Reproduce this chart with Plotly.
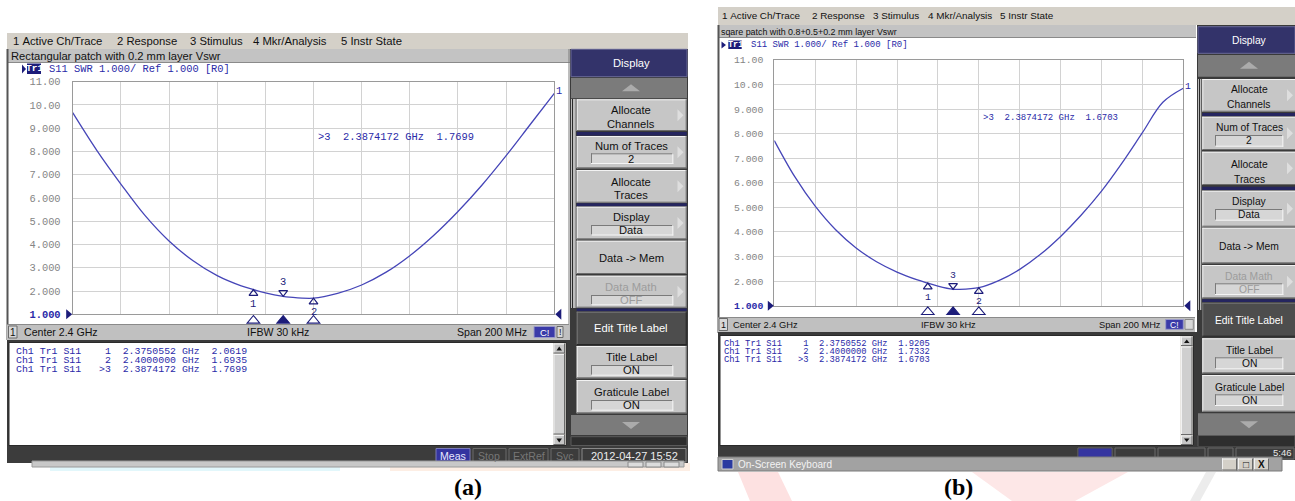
import plotly.graph_objects as go

W, H = 1295, 501

# ------------------------------------------------------------------ data
freq_ghz = [2.30, 2.31, 2.32, 2.33, 2.34, 2.35, 2.36, 2.37, 2.3750552, 2.38,
            2.3874172, 2.39, 2.40, 2.41, 2.42, 2.43, 2.44, 2.45, 2.46, 2.47,
            2.48, 2.49, 2.50]
vswr_a = [9.67, 8.05, 6.60, 5.25, 4.15, 3.30, 2.66, 2.22, 2.0619, 1.92,
          1.7699, 1.74, 1.6935, 1.90, 2.26, 2.80, 3.52, 4.40, 5.42, 6.56,
          7.82, 9.16, 10.50]
vswr_b = [7.72, 6.25, 5.05, 4.09, 3.35, 2.79, 2.37, 2.05, 1.9205, 1.80,
          1.6703, 1.665, 1.7332, 2.03, 2.48, 3.08, 3.82, 4.68, 5.66, 6.80,
          8.04, 9.28, 9.85]

marker_names = ["1", "2", ">3"]
marker_freq_ghz = [2.3750552, 2.4000000, 2.3874172]
marker_vswr_a = [2.0619, 1.6935, 1.7699]
marker_vswr_b = [1.9205, 1.7332, 1.6703]

x_grid_ghz = [2.30, 2.32, 2.34, 2.36, 2.38, 2.40, 2.42, 2.44, 2.46, 2.48, 2.50]
y_tick_vals = [1, 2, 3, 4, 5, 6, 7, 8, 9, 10, 11]
y_tick_text = ["1.000", "2.000", "3.000", "4.000", "5.000", "6.000",
               "7.000", "8.000", "9.000", "10.00", "11.00"]

menu_items = ["1 Active Ch/Trace", "2 Response", "3 Stimulus",
              "4 Mkr/Analysis", "5 Instr State"]
chart_titles = ["Rectangular patch with 0.2 mm layer Vswr",
                "sqare patch with 0.8+0.5+0.2 mm layer Vswr"]
trace_header = "S11 SWR 1.000/ Ref 1.000 [R0]"
panel_labels = ["(a)", "(b)"]

# ------------------------------------------------------------------ styles
SANS = "Liberation Sans"
MONO = "Liberation Mono"
SERIF = "Liberation Serif"
BLUE_TXT = "#2a2aa8"
TRACE = "#4646b8"
NAVY = "#1c1c7a"
NB = "\u00a0"

S, A = [], []


def X(p):
    return p / W


def Y(p):
    return 1 - p / H


def rect(x0, y0, x1, y1, fill, lc=None, lw=0):
    S.append(dict(type="rect", xref="paper", yref="paper", x0=X(x0), x1=X(x1),
                  y0=Y(y1), y1=Y(y0), fillcolor=fill, layer="below",
                  line=dict(color=lc or "rgba(0,0,0,0)", width=lw)))


def seg(x0, y0, x1, y1, color, w=1):
    S.append(dict(type="line", xref="paper", yref="paper", x0=X(x0), x1=X(x1),
                  y0=Y(y0), y1=Y(y1), layer="below", line=dict(color=color, width=w)))


def poly(pts, fill, layer="below", lc=None, lw=0):
    d = "M " + " L ".join(f"{X(a):.6f},{Y(b):.6f}" for a, b in pts) + " Z"
    S.append(dict(type="path", xref="paper", yref="paper", path=d, fillcolor=fill,
                  layer=layer, line=dict(width=lw, color=lc or "rgba(0,0,0,0)")))


def txt(x, y, s, size, color, family=SANS, xanchor="left", bold=False):
    s = s.replace(" ", NB)
    if bold:
        s = f"<b>{s}</b>"
    A.append(dict(xref="paper", yref="paper", x=X(x), y=Y(y), text=s,
                  showarrow=False, xanchor=xanchor, yanchor="middle", borderpad=0,
                  borderwidth=0, font=dict(family=family, size=size, color=color)))


def button(x0, y0, x1, y1, fill="#c6c6c6", hi="#f2f2f2", lo="#6a6a6a"):
    rect(x0, y0, x1, y1, fill)
    seg(x0, y0 + 0.5, x1, y0 + 0.5, hi)
    seg(x0 + 0.5, y0, x0 + 0.5, y1, hi)
    seg(x0, y1 - 0.5, x1, y1 - 0.5, lo)
    seg(x1 - 0.5, y0, x1 - 0.5, y1, lo)


def inset(x0, y0, x1, y1, fill="#d6d6d6"):
    rect(x0, y0, x1, y1, fill)
    seg(x0, y0 + 0.5, x1, y0 + 0.5, "#7a7a7a")
    seg(x0 + 0.5, y0, x0 + 0.5, y1, "#7a7a7a")
    seg(x0, y1 - 0.5, x1, y1 - 0.5, "#f4f4f4")
    seg(x1 - 0.5, y0, x1 - 0.5, y1, "#f4f4f4")


def softkeys(g):
    px0, px1 = g["px0"], g["px1"]
    bx0, bx1 = g["bx0"], g["bx1"]
    ix0, ix1 = g["ix0"], g["ix1"]
    ax = g["ax"]
    fs = g["fs"]
    cx = g.get("cx", (bx0 + bx1) / 2)
    rect(px0, g["py0"], px1, g["py1"], "#3a3a3a")
    rect(px0 + 1, g["strip"][0], bx0 - 1, g["strip"][1], "#bdbdbd")
    seg(px0 + 2.5, g["strip"][0], px0 + 2.5, g["strip"][1], "#2a2a2a")
    for it in g["items"]:
        k = it["k"]
        y0, y1 = it["y"]
        if k == "nav":
            rect(px0 + 1, y0, px1 - 1, y1, "#33336a", "#6a6a9a", 1)
            txt(cx, it["ly"][0], it["t"][0], fs, "white", xanchor="center")
        elif k in ("up", "down"):
            rect(px0 + 1, y0, px1 - 1, y1, "#7b7b7b")
            yc = (y0 + y1) / 2
            if k == "up":
                poly([(cx - 9, yc + 3), (cx + 9, yc + 3), (cx, yc - 4)], "#ababab")
            else:
                poly([(cx - 9, yc - 3), (cx + 9, yc - 3), (cx, yc + 4)], "#ababab")
        elif k == "bar":
            rect(px0 + 1, y0, px1 - 1, y1, "#2e2e2e", "#5a5a5a", 1)
        elif k == "sep":
            rect(bx0, y0, bx1, y1, "#25255f")
        elif k == "dark":
            button(bx0, y0, bx1, y1, fill="#4d4d4d", hi="#777777", lo="#262626")
            txt(cx, it["ly"][0], it["t"][0], fs, "white", xanchor="center")
        else:
            button(bx0, y0, bx1, y1)
            col = "#9c9c9c" if it.get("gray") else "#111111"
            for t, ly in zip(it["t"], it["ly"]):
                txt(cx, ly, t, fs, col, xanchor="center")
            if "box" in it:
                b0, b1 = it["box"][0], it["box"][1]
                inset(ix0, b0, ix1, b1)
                txt(cx, (b0 + b1) / 2, it["box"][2], fs, col, xanchor="center")
            if it.get("arrow"):
                yc = (y0 + y1) / 2
                poly([(ax, yc - 6), (ax + 6, yc), (ax, yc + 6)], "#dedede")


# ================================================================ panel (a)
rect(7, 33, 688, 49, "#d4d0c8")
menu_x_a = [12.7, 117.3, 190.0, 253.3, 340.7]
for mx, m in zip(menu_x_a, menu_items):
    txt(mx, 41, m, 11.3, "#111111")
rect(7, 49, 570, 63, "#c3c3c3")
seg(7, 62.5, 570, 62.5, "#8a8a8a")
txt(10.5, 56, chart_titles[0], 11.2, "#111111")
rect(7, 63, 569, 324, "#ffffff")
seg(7.5, 49, 7.5, 340, "#555555", 2)
seg(569, 49, 569, 340, "#7a7a7a", 1)
# trace header
poly([(22, 64.5), (26, 69), (22, 73.5)], NAVY)
rect(27, 63.5, 41, 74, NAVY)
txt(34, 69, "Tr1", 9.5, "white", family=MONO, xanchor="center", bold=True)
txt(48.5, 69, trace_header, 10.4, BLUE_TXT, family=MONO)
# readout
txt(317.5, 136.7, f"{marker_names[2]}  {marker_freq_ghz[2]:.7f} GHz  {marker_vswr_a[2]:.4f}",
    10.4, BLUE_TXT, family=MONO)
# status bar
rect(7, 324, 569, 340, "#c0c0c0")
seg(7, 324.5, 569, 324.5, "#8a8a8a")
rect(8.5, 326, 17, 338, "#d8d8d8", "#6a6a6a", 1)
txt(12.8, 332, "1", 10, "#111111", xanchor="center")
txt(24, 332, "Center 2.4 GHz", 10.6, "#111111")
txt(278, 332, "IFBW 30 kHz", 10.6, "#111111", xanchor="center")
txt(527, 332, "Span 200 MHz", 10.6, "#111111", xanchor="right")
rect(534, 326.5, 555, 337.5, "#3a3aa8", "#9a9ac8", 1)
txt(544.5, 332, "C!", 9.5, "white", xanchor="center")
rect(557, 326.5, 563, 337.5, "#d8d8d8", "#6a6a6a", 1)
txt(560, 332, "!", 9, "#111111", xanchor="center")
# marker list
rect(7, 340, 570, 447, "#3a3a3a")
rect(9, 342.5, 566, 445.5, "#ffffff", "#2a2a2a", 1)
rect(553, 343, 565.5, 445, "#d4d0c8")
button(553.5, 343.5, 565, 353.5)
poly([(556.5, 350.5), (562, 350.5), (559.25, 346.5)], "#111111")
button(553.5, 435, 565, 445)
poly([(556.5, 438.5), (562, 438.5), (559.25, 442.5)], "#111111")
button(553.5, 354, 565, 434.5, fill="#cfcfcf")
for i, (nm, f, v) in enumerate(zip(marker_names, marker_freq_ghz, marker_vswr_a)):
    line = f"Ch1 Tr1 S11{nm:>5}  {f:.7f} GHz  {v:.4f}"
    txt(15.5, 351.5 + 9 * i, line, 9.9, BLUE_TXT, family=MONO)

softkeys(dict(
    px0=570, px1=688, py0=49, py1=447, bx0=576.7, bx1=686.7, ix0=591, ix1=673.3,
    ax=677.5, fs=11.2, strip=(99, 308), cx=631,
    items=[
        dict(k="nav", y=(49.3, 76.7), t=["Display"], ly=[63]),
        dict(k="up", y=(78, 98.3)),
        dict(k="btn", y=(99.3, 131), t=["Allocate", "Channels"], ly=[110.5, 124], arrow=True),
        dict(k="sep", y=(132, 135.5)),
        dict(k="btn", y=(136, 168.3), t=["Num of Traces"], ly=[146], box=(153.3, 164, "2"), arrow=True),
        dict(k="btn", y=(170, 202.7), t=["Allocate", "Traces"], ly=[181.7, 195], arrow=True),
        dict(k="sep", y=(203.3, 206.2)),
        dict(k="btn", y=(206.7, 239.3), t=["Display"], ly=[216.7], box=(225, 235.5, "Data"), arrow=True),
        dict(k="btn", y=(240.7, 274), t=["Data -> Mem"], ly=[258.3]),
        dict(k="btn", y=(275.7, 307.7), t=["Data Math"], ly=[286.7], box=(295, 305.3, "OFF"), arrow=True, gray=True),
        dict(k="sep", y=(308.5, 311.3)),
        dict(k="dark", y=(311.7, 345), t=["Edit Title Label"], ly=[328.3]),
        dict(k="btn", y=(346, 378.3), t=["Title Label"], ly=[357.3], box=(365, 375.7, "ON")),
        dict(k="btn", y=(380, 413.3), t=["Graticule Label"], ly=[391.7], box=(400, 410.7, "ON")),
        dict(k="down", y=(415, 435)),
        dict(k="bar", y=(436.7, 445.5)),
    ]))

# bottom status bar (a)
rect(7, 446, 688, 463, "#3c3c3c")
rect(436, 448.5, 470, 462, "#3434a0", "#7a7ab8", 1)
txt(453, 456, "Meas", 10.6, "#e8e8ff", xanchor="center")
for bx0, bx1, lab in [(473, 506, "Stop"), (509, 548, "ExtRef"), (551, 579, "Svc")]:
    rect(bx0, 448.5, bx1, 462, "#3c3c3c", "#6a6a6a", 1)
    txt((bx0 + bx1) / 2, 456, lab, 10.6, "#767676", xanchor="center")
rect(582, 448.5, 686, 462, "#3c3c3c", "#8a8a8a", 1)
txt(634, 456, "2012-04-27 15:52", 11, "#ececec", xanchor="center")
rect(50, 463, 340, 471, "#e2f7fb")
rect(390, 463, 690, 471, "#fdeee4")
rect(32, 461, 684, 467, "#c8c8c8", "#9a9a9a", 1)
for bx in (628, 646, 664):
    rect(bx, 462, bx + 15, 467, "#dcdcdc", "#8a8a8a", 1)
txt(468.5, 487, panel_labels[0], 24, "#000000", family=SERIF, xanchor="center", bold=True)

# ================================================================ panel (b)
rect(718, 7, 1295, 25, "#d4d0c8")
menu_x_b = [721.7, 811.7, 873.3, 927.7, 1000.0]
for mx, m in zip(menu_x_b, menu_items):
    txt(mx, 16, m, 9.9, "#111111")
rect(718, 25, 1196, 38, "#c3c3c3")
seg(718, 37.5, 1196, 37.5, "#8a8a8a")
txt(720.5, 31.7, chart_titles[1], 8.9, "#111111")
rect(718, 38, 1195, 317, "#ffffff")
seg(718.5, 25, 718.5, 333, "#555555", 2)
poly([(721.5, 41.5), (726, 45), (721.5, 48.5)], NAVY)
rect(728.3, 40.5, 741.7, 49, NAVY)
txt(735, 44.8, "Tr1", 8.5, "white", family=MONO, xanchor="center", bold=True)
txt(751.2, 45, trace_header, 9, BLUE_TXT, family=MONO)
txt(982.8, 118.3, f"{marker_names[2]}  {marker_freq_ghz[2]:.7f} GHz  {marker_vswr_b[2]:.4f}",
    9, BLUE_TXT, family=MONO)
rect(718, 317, 1195, 332, "#c0c0c0")
seg(718, 317.5, 1195, 317.5, "#8a8a8a")
rect(719, 318.5, 727.5, 330.5, "#d8d8d8", "#6a6a6a", 1)
txt(723.3, 324.5, "1", 9, "#111111", xanchor="center")
txt(732.5, 324.5, "Center 2.4 GHz", 9.3, "#111111")
txt(948, 324.5, "IFBW 30 kHz", 9.3, "#111111", xanchor="center")
txt(1160.5, 324.5, "Span 200 MHz", 9.3, "#111111", xanchor="right")
rect(1165.7, 319.5, 1183.3, 329.3, "#3a3aa8", "#9a9ac8", 1)
txt(1174.5, 324.5, "C!", 8.5, "white", xanchor="center")
rect(1185, 319.5, 1193.3, 329.3, "#d8d8d8", "#8a8a8a", 1)
rect(718, 332, 1197, 447, "#3a3a3a")
rect(720, 335.5, 1193.5, 445.5, "#ffffff", "#2a2a2a", 1)
rect(1180.5, 336, 1193, 445, "#d4d0c8")
button(1181, 336.5, 1192.5, 346)
poly([(1184, 343), (1189.5, 343), (1186.75, 339.5)], "#111111")
button(1181, 435.5, 1192.5, 445)
poly([(1184, 438.5), (1189.5, 438.5), (1186.75, 442)], "#111111")
button(1181, 346.5, 1192.5, 435, fill="#cfcfcf")
for i, (nm, f, v) in enumerate(zip(marker_names, marker_freq_ghz, marker_vswr_b)):
    line = f"Ch1 Tr1 S11{nm:>5}  {f:.7f} GHz  {v:.4f}"
    txt(724.5, 344 + 8 * i, line, 8.8, BLUE_TXT, family=MONO)

softkeys(dict(
    px0=1197, px1=1296, py0=25, py1=447, bx0=1202.3, bx1=1296, ix0=1215, ix1=1283.3,
    ax=1287, fs=10.3, strip=(79, 310), cx=1249,
    items=[
        dict(k="nav", y=(26.7, 53.3), t=["Display"], ly=[40.7]),
        dict(k="up", y=(55, 76.7)),
        dict(k="btn", y=(79, 111.7), t=["Allocate", "Channels"], ly=[90, 104.3], arrow=True),
        dict(k="sep", y=(113, 116)),
        dict(k="btn", y=(116.7, 150), t=["Num of Traces"], ly=[127.7], box=(135, 146.7, "2"), arrow=True),
        dict(k="btn", y=(151.7, 185), t=["Allocate", "Traces"], ly=[164, 179], arrow=True),
        dict(k="sep", y=(186.7, 190)),
        dict(k="btn", y=(190.7, 226.7), t=["Display"], ly=[201.7], box=(209, 220.7, "Data"), arrow=True),
        dict(k="btn", y=(227.7, 263.3), t=["Data -> Mem"], ly=[246.7]),
        dict(k="btn", y=(265, 298.3), t=["Data Math"], ly=[276], box=(283.3, 295, "OFF"), arrow=True, gray=True),
        dict(k="sep", y=(299.3, 301.9)),
        dict(k="dark", y=(302.7, 336.7), t=["Edit Title Label"], ly=[320]),
        dict(k="btn", y=(338.3, 373.3), t=["Title Label"], ly=[350], box=(357.3, 369.3, "ON")),
        dict(k="btn", y=(375, 411.7), t=["Graticule Label"], ly=[387.3], box=(394.3, 406, "ON")),
        dict(k="down", y=(413.3, 435)),
        dict(k="bar", y=(435.5, 446.7)),
    ]))

rect(718, 446.5, 1295, 460, "#3c3c3c")
for bx0, bx1 in [(1078, 1112), (1115, 1155), (1158, 1205), (1208, 1233), (1236, 1294)]:
    rect(bx0, 448, bx1, 459, "#3c3c3c", "#6a6a6a", 1)
rect(1078.5, 448.5, 1111.5, 458.5, "#3434a0")
txt(1292, 452.5, "5:46", 9.5, "#e8e8e8", xanchor="right")
rect(718, 457, 1282, 471, "#a2a2a2", "#7a7a7a", 1)
rect(722, 459.5, 733, 469, "#2a3aa0", "#d0d0d0", 1)
txt(738, 464.5, "On-Screen Keyboard", 10, "#f2f2f2")
for bx0, lab in [(1222, ""), (1238, "□"), (1254, "X")]:
    button(bx0, 458.5, bx0 + 15, 470.5, fill="#d4d0c8")
    if lab:
        txt(bx0 + 7.5, 464.5, lab, 10, "#111111", xanchor="center", bold=(lab == "X"))
poly([(738, 472), (778, 472), (792, 501), (750, 501)], "#fde1e1")
poly([(972, 472), (1128, 472), (1075, 501), (1012, 501)], "#fde7e7")
poly([(1206, 472), (1216, 472), (1200, 501), (1190, 501)], "#ececec")
txt(958, 487, panel_labels[1], 24, "#000000", family=SERIF, xanchor="center", bold=True)

# ================================================================ charts
fig = go.Figure()

geo = {
    "a": dict(x0=72.7, x1=554.3, y0=81.7, y1=314.3, fs=10.4, vs=vswr_a, mv=marker_vswr_a,
              xa="x", ya="y", standoff=9),
    "b": dict(x0=774.3, x1=1183.3, y0=60.0, y1=305.7, fs=9.8, vs=vswr_b, mv=marker_vswr_b,
              xa="x2", ya="y2", standoff=8),
}

layout_axes = {}
for key, g in geo.items():
    ppu = (g["y1"] - g["y0"]) / (y_tick_vals[-1] - y_tick_vals[0])      # px per VSWR unit
    ppg = (g["x1"] - g["x0"]) / (x_grid_ghz[-1] - x_grid_ghz[0])        # px per GHz
    xa, ya = g["xa"], g["ya"]
    ticktext = [f"<span style='color:{BLUE_TXT}'><b>{t}</b></span>" if i == 0 else t
                for i, t in enumerate(y_tick_text)]
    xname = "xaxis" if xa == "x" else "xaxis2"
    yname = "yaxis" if ya == "y" else "yaxis2"
    layout_axes[xname] = dict(domain=[X(g["x0"]), X(g["x1"])], range=[x_grid_ghz[0], x_grid_ghz[-1]],
                              anchor=ya, tickvals=x_grid_ghz, showticklabels=False, ticks="",
                              showgrid=True, gridcolor="#d2d2d2", gridwidth=1, zeroline=False,
                              showline=True, mirror=True, linecolor="#9a9a9a", linewidth=1,
                              automargin=False)
    layout_axes[yname] = dict(domain=[Y(g["y1"]), Y(g["y0"])], range=[y_tick_vals[0], y_tick_vals[-1]],
                              anchor=xa, tickvals=y_tick_vals, ticktext=ticktext, ticks="",
                              ticklabelstandoff=g["standoff"], automargin=False,
                              tickfont=dict(family=MONO, size=g["fs"], color="#858585"),
                              showgrid=True, gridcolor="#d2d2d2", gridwidth=1, zeroline=False,
                              showline=True, mirror=True, linecolor="#9a9a9a", linewidth=1)

    fig.add_trace(go.Scatter(x=freq_ghz, y=g["vs"], mode="lines", xaxis=xa, yaxis=ya,
                             line=dict(color=TRACE, width=1.3, shape="spline", smoothing=1.0),
                             hoverinfo="skip"))
    # markers on the trace
    r = 3.8
    for nm, f, v in zip(marker_names, marker_freq_ghz, g["mv"]):
        below = nm != ">3"
        fig.add_trace(go.Scatter(
            x=[f], y=[v - r / ppu if below else v + r / ppu], mode="markers", xaxis=xa, yaxis=ya,
            cliponaxis=False, hoverinfo="skip",
            marker=dict(symbol="triangle-up-open" if below else "triangle-down-open", size=7.6,
                        color=NAVY, line=dict(color=NAVY, width=1.2))))
        A.append(dict(xref=xa, yref=ya, x=f, y=v, text=nm.replace(">", ""), showarrow=False,
                      yshift=-14 if below else 14, font=dict(family=MONO, size=g["fs"], color=NAVY)))
        # marker position indicators below the graticule (x in data units, y in paper units)
        active = nm.startswith(">")
        hw = 6.3 / ppg
        yt, yb = Y(g["y1"] + 1.2), Y(g["y1"] + 8.8)
        S.append(dict(type="path", xref=xa, yref="paper",
                      path=f"M {f - hw},{yb} L {f},{yt} L {f + hw},{yb} Z",
                      fillcolor=NAVY if active else "rgba(0,0,0,0)", layer="above",
                      line=dict(color=NAVY, width=1.1)))
    # reference-position arrows (left and right of the graticule at the reference line)
    yr = g["y1"]
    poly([(g["x0"] - 6.5, yr - 5), (g["x0"] - 0.5, yr), (g["x0"] - 6.5, yr + 5)], NAVY, layer="above")
    poly([(g["x1"] + 7, yr - 5.5), (g["x1"] + 1, yr), (g["x1"] + 7, yr + 5.5)], NAVY, layer="above")
    # trace number at the end of the trace
    A.append(dict(xref=xa, yref=ya, x=freq_ghz[-1], y=g["vs"][-1], text="1", showarrow=False,
                  xanchor="left", xshift=0, yshift=2, font=dict(family=MONO, size=g["fs"], color=BLUE_TXT)))

fig.update_layout(
    width=W, height=H, margin=dict(l=0, r=0, t=0, b=0, pad=0, autoexpand=False),
    paper_bgcolor="#ffffff", plot_bgcolor="rgba(0,0,0,0)",
    showlegend=False, shapes=S, annotations=A, **layout_axes)

fig.write_html("out.html", config={"displayModeBar": False},
               post_script="document.body.style.margin='0px';document.body.style.overflow='hidden';")
